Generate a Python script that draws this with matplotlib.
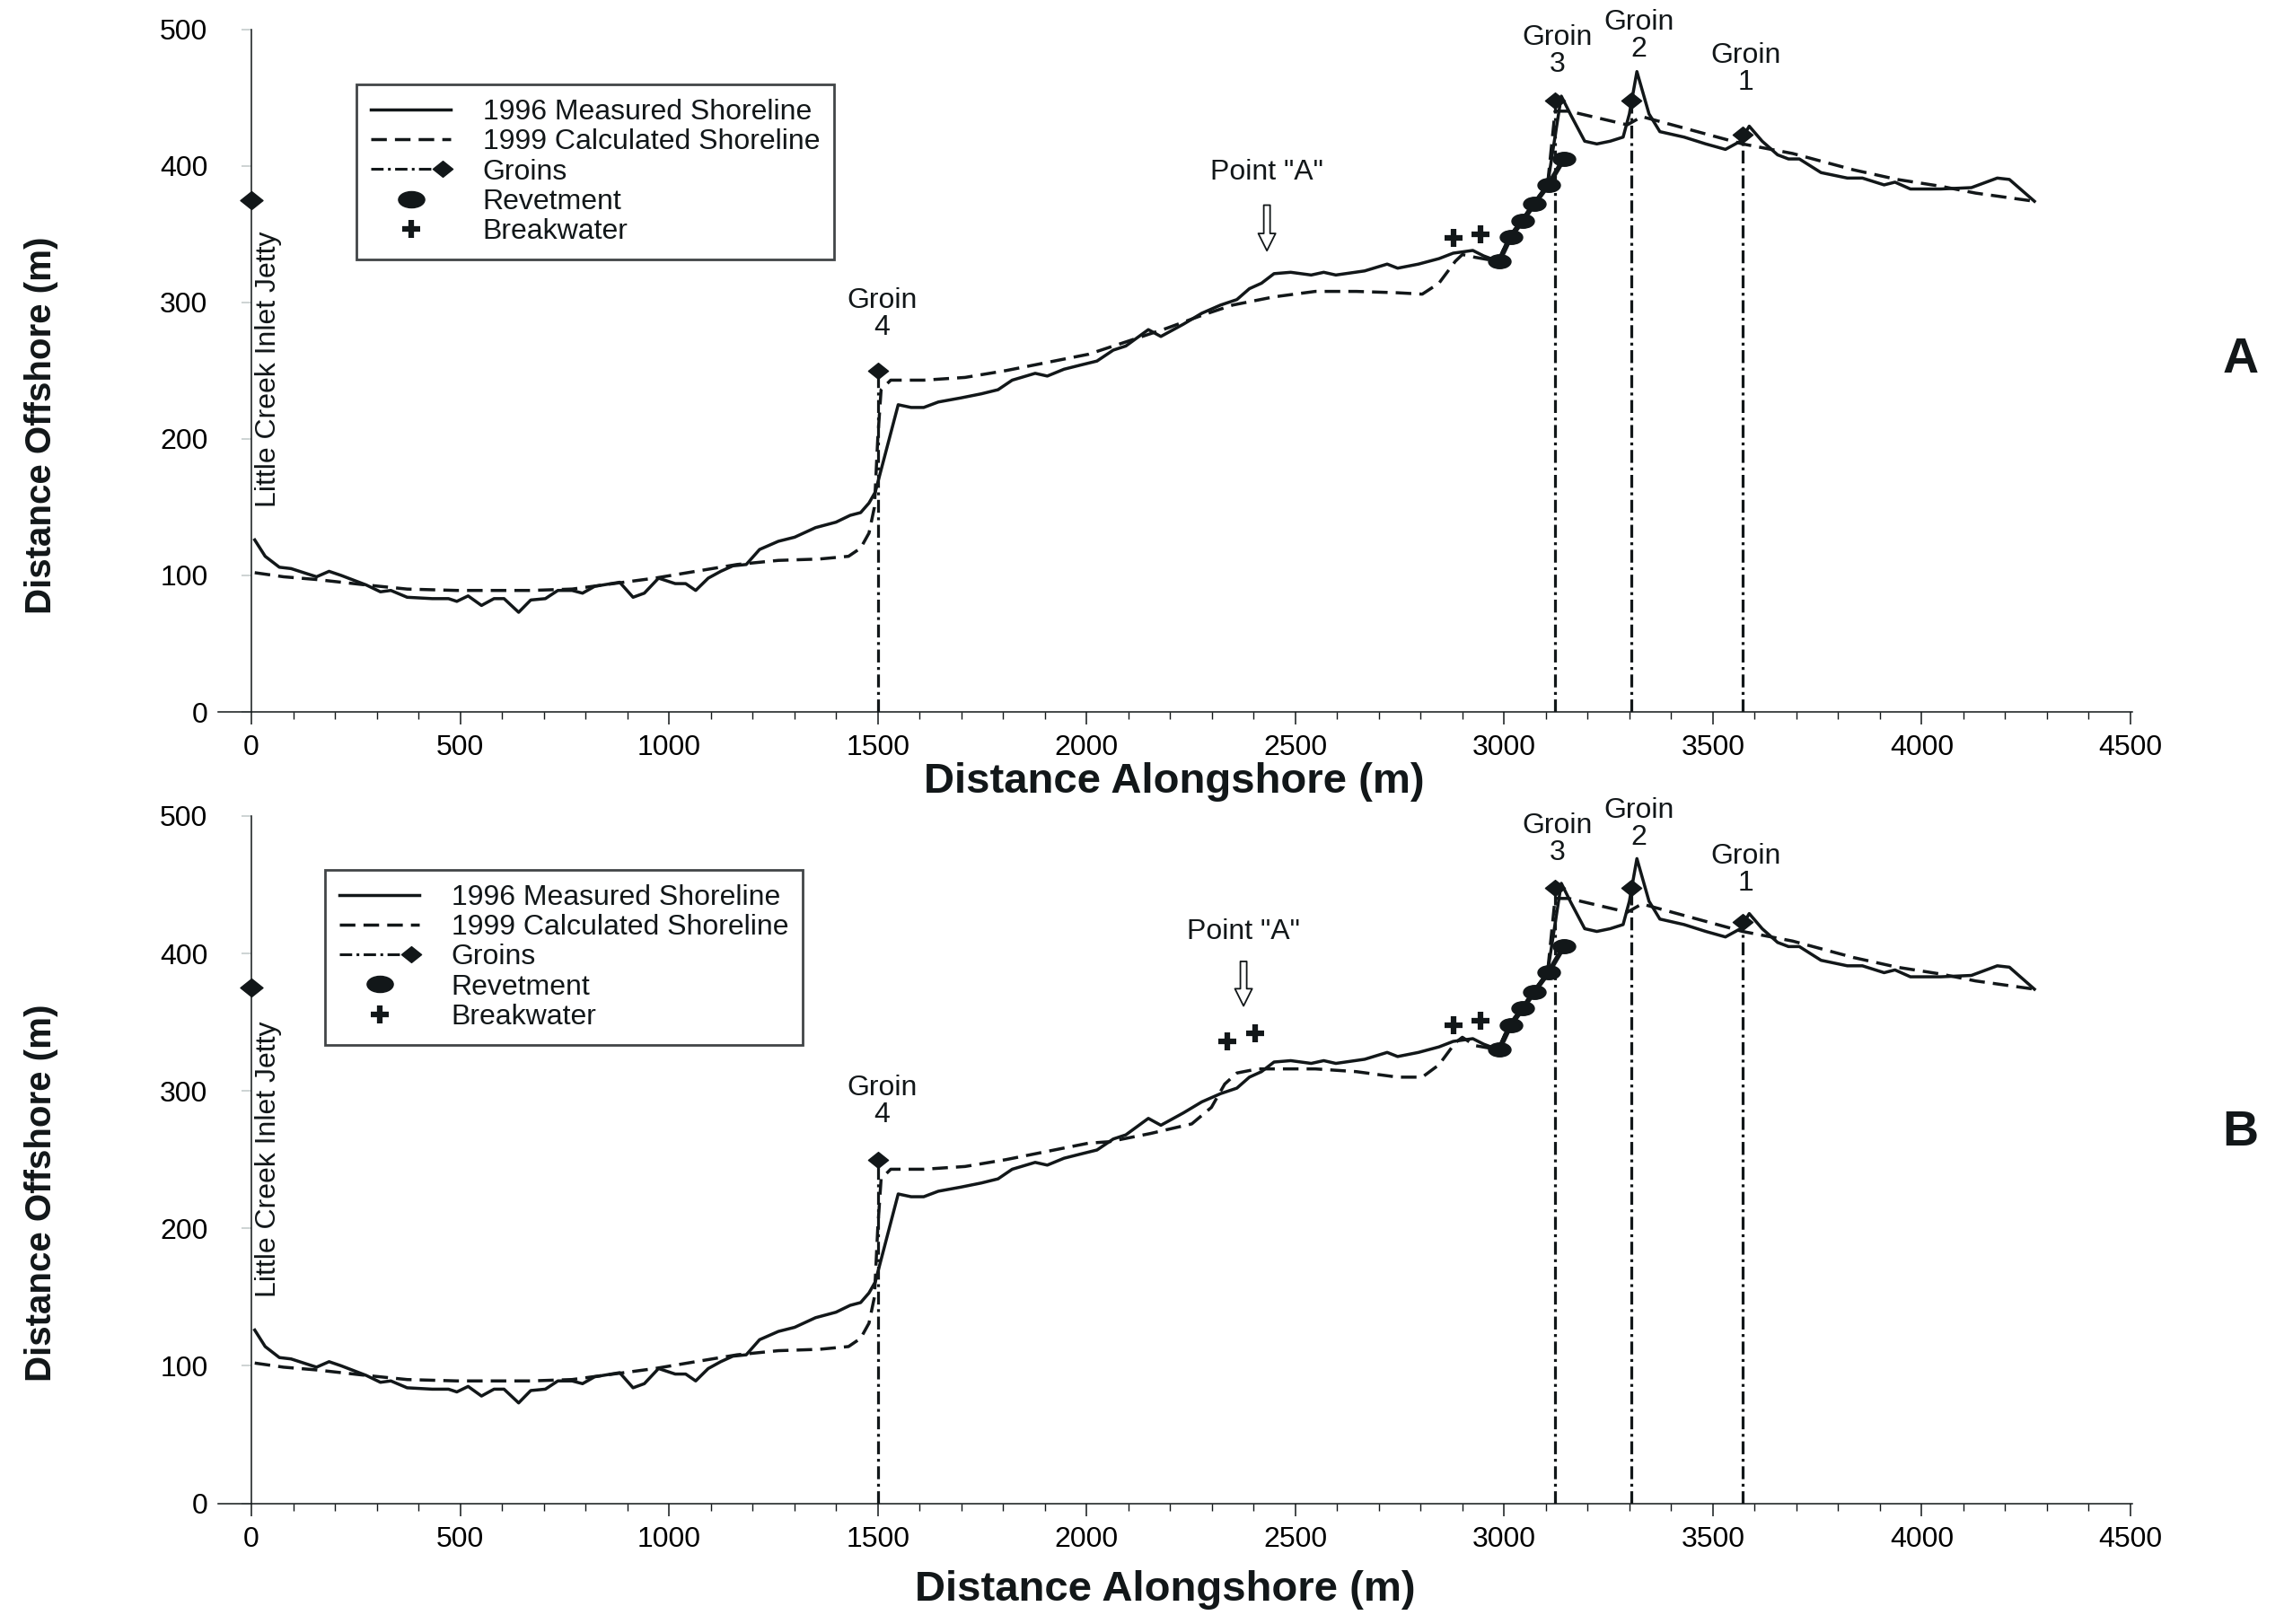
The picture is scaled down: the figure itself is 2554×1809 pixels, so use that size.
import numpy as np
import matplotlib
matplotlib.use("Agg")
import matplotlib.pyplot as plt
from matplotlib.lines import Line2D
from matplotlib.path import Path
from matplotlib.legend_handler import HandlerBase

plt.rcParams['font.family'] = ['Liberation Sans', 'DejaVu Sans']
plt.rcParams['font.size'] = 23

INK = '#121719'
DASHED = (0, (5, 2.6))
DASHDOT = (0, (4.5, 1.6, 1, 1.6))

# 1996 measured shoreline (same survey in both panels)
meas_x = [8, 33, 67, 95, 156, 186, 215, 275, 309, 334, 373, 433, 472, 492, 519,
          551, 581, 605, 640, 669, 704, 734, 768, 793, 822, 882, 914, 941, 975,
          1015, 1040, 1064, 1094, 1124, 1153, 1185, 1217, 1262, 1301, 1351, 1400,
          1434, 1459, 1479, 1494, 1549, 1580, 1610, 1645, 1699, 1748, 1788, 1822,
          1877, 1906, 1946, 1985, 2025, 2064, 2094, 2148, 2178, 2232, 2276, 2321,
          2360, 2390, 2419, 2449, 2489, 2538, 2568, 2597, 2666, 2720, 2745, 2795,
          2844, 2878, 2925, 2951, 2986, 3012, 3042, 3070, 3104, 3137, 3160, 3193,
          3222, 3254, 3285, 3300, 3318, 3347, 3373, 3431, 3483, 3530, 3566, 3587,
          3618, 3655, 3681, 3707, 3759, 3822, 3858, 3910, 3936, 3973, 4046, 4119,
          4181, 4210, 4270]
meas_y = [126, 114, 106, 105, 99, 103, 100, 93, 88, 89, 84, 83, 83, 81, 85,
          78, 83, 83, 73, 82, 83, 89, 89, 87, 92, 95, 84, 87, 98,
          94, 94, 89, 98, 103, 107, 108, 119, 125, 128, 135, 139,
          144, 146, 153, 161, 225, 223, 223, 227, 230, 233, 236, 243,
          248, 246, 251, 254, 257, 265, 268, 280, 275, 284, 292, 298,
          302, 310, 314, 321, 322, 320, 322, 320, 323, 328, 325, 328,
          332, 336, 338, 334, 330, 348, 360, 372, 386, 451, 437, 418,
          416, 418, 421, 438, 469, 438, 425, 421, 416, 412, 418, 429,
          418, 408, 405, 405, 395, 391, 391, 386, 388, 383, 383, 384,
          391, 390, 374]

# 1999 calculated shoreline, panel A
calc_a_x = [8, 77, 156, 275, 373, 492, 669, 768, 867, 966, 1064, 1163, 1262, 1360,
            1430, 1459, 1479, 1492, 1500, 1508, 1531, 1610, 1709, 1807, 1906, 2005,
            2094, 2192, 2281, 2350, 2449, 2548, 2646, 2745, 2804, 2844, 2883, 2900]
calc_a_y = [102, 99, 97, 93, 90, 89, 89, 90, 94, 98, 103, 108, 111, 112,
            114, 120, 131, 150, 200, 236, 243, 243, 245, 250, 256, 262,
            271, 281, 291, 298, 304, 308, 308, 307, 306, 314, 330, 335]

# 1999 calculated shoreline, panel B (breakwater near Point "A")
calc_b_x = [8, 77, 156, 275, 373, 492, 669, 768, 867, 966, 1064, 1163, 1262, 1360,
            1430, 1459, 1479, 1492, 1500, 1508, 1531, 1610, 1709, 1807, 1906, 2005,
            2054, 2153, 2252, 2299, 2331, 2360, 2410, 2548, 2646, 2745, 2804, 2844,
            2883, 2900]
calc_b_y = [102, 99, 97, 93, 90, 89, 89, 90, 94, 98, 103, 108, 111, 112,
            114, 120, 131, 150, 200, 236, 243, 243, 245, 250, 256, 262,
            263, 269, 276, 288, 305, 313, 316, 316, 314, 310, 310, 319,
            335, 339]

# calculated shoreline east of the breakwaters (both panels)
calc_tail_x = [2930, 2986, 3012, 3042, 3070, 3104, 3122, 3155, 3295, 3330, 3571,
               3691, 3837, 3941, 4046, 4129, 4270]
calc_tail_y = [333, 330, 348, 360, 372, 386, 440, 440, 430, 436, 416,
               409, 397, 390, 385, 380, 374]

groin_x = [1500, 3122, 3305, 3572]
groin_top = [250, 448, 448, 423]
groin_names = ['4', '3', '2', '1']
groin_label_x = [1510, 3128, 3322, 3578]
groin_label_y_a = [291, 484, 495, 471]
groin_label_y_b = [292, 483, 494, 461]

jetty_x, jetty_y = 0, 375

revet_x = [2988, 3016, 3045, 3072, 3106, 3143]
revet_y = [330, 348, 360, 372, 386, 405]

bw_a_x = [2879, 2943]
bw_a_y = [347, 350]
bw_b_x = [2338, 2403, 2879, 2943]
bw_b_y = [336, 342, 348, 351]

point_a = {'A': (2432, 395, 373, 336), 'B': (2376, 416, 396, 360)}

# marker shapes
_c = Path.unit_circle()
ellipse = Path(_c.vertices * np.array([1.0, 0.62]), _c.codes)
diamond = Path([(-1, 0), (0, 0.8), (1, 0), (0, -0.8), (-1, 0)],
               [Path.MOVETO, Path.LINETO, Path.LINETO, Path.LINETO, Path.CLOSEPOLY])


class GroinHandler(HandlerBase):
    def create_artists(self, legend, orig_handle, xdescent, ydescent,
                       width, height, fontsize, trans):
        y = (height - ydescent) / 2
        x0, x1 = -xdescent, -xdescent + width
        ln = Line2D([x0, x1 - 0.1 * width], [y, y], color=INK, lw=2.2, ls=DASHDOT)
        mk = Line2D([x1 - 0.1 * width], [y], marker=diamond, ms=16,
                    color=INK, ls='none')
        ln.set_transform(trans)
        mk.set_transform(trans)
        return [ln, mk]


fig = plt.figure(figsize=(25.54, 18.09), dpi=100)
fig.patch.set_facecolor('white')

left, width = 242.8 / 2554, (2375.3 - 242.8) / 2554
ax_a = fig.add_axes([left, 0.5616, width, 0.4204])
ax_b = fig.add_axes([left, 0.07435, width, 0.4232])

panels = [
    (ax_a, 'A', calc_a_x, calc_a_y, bw_a_x, bw_a_y, groin_label_y_a, (0.0723, 0.919)),
    (ax_b, 'B', calc_b_x, calc_b_y, bw_b_x, bw_b_y, groin_label_y_b, (0.0559, 0.9216)),
]

for ax, tag, cx, cy, bx, by, gly, leg_pos in panels:
    ax.set_xlim(-80, 4505)
    ax.set_ylim(0, 500)
    for s in ['top', 'right']:
        ax.spines[s].set_visible(False)
    ax.spines['left'].set_position(('data', 0))
    ax.spines['left'].set_linewidth(1.1)
    ax.spines['bottom'].set_linewidth(1.1)
    ax.spines['left'].set_color(INK)
    ax.spines['bottom'].set_color(INK)

    ax.set_xticks(np.arange(0, 4501, 500))
    ax.set_xticks(np.arange(0, 4501, 100), minor=True)
    ax.set_yticks(np.arange(0, 501, 100))
    ax.tick_params(axis='x', which='major', direction='out', length=10, width=1.1,
                   color=INK, pad=8, labelsize=23)
    ax.tick_params(axis='x', which='minor', direction='out', length=6, width=1.0,
                   color=INK)
    ax.tick_params(axis='y', which='major', direction='out', length=8, width=1.2,
                   color='#c5cccc', pad=27, labelsize=23)

    # groins
    for gx, gt in zip(groin_x, groin_top):
        ax.plot([gx, gx], [0, gt], color=INK, lw=2.3, ls=DASHDOT, zorder=2)
        ax.plot([gx], [gt], marker=diamond, ms=16, color=INK, ls='none', zorder=4)
    ax.plot([jetty_x], [jetty_y], marker=diamond, ms=18, color=INK, ls='none',
            zorder=4, clip_on=False)

    for lx, ly, nm in zip(groin_label_x, gly, groin_names):
        ax.text(lx, ly, 'Groin\n' + nm, ha='center', va='center', fontsize=23,
                linespacing=1.0, color=INK)

    # shorelines
    ax.plot(meas_x, meas_y, color=INK, lw=2.5, zorder=3)
    ax.plot(cx + calc_tail_x, cy + calc_tail_y, color=INK, lw=2.5, ls=DASHED, zorder=3)

    # revetment and breakwaters
    ax.plot(revet_x, revet_y, color=INK, lw=4, zorder=4)
    ax.plot(revet_x, revet_y, marker=ellipse, ms=18, color=INK, ls='none', zorder=5)
    ax.plot(bx, by, marker='+', ms=14, mew=4.5, color=INK, ls='none', zorder=5)

    # point A
    px, pty, ay0, ay1 = point_a[tag]
    ax.text(px, pty, 'Point "A"', ha='center', va='center', fontsize=23, color=INK)
    ax.annotate('', xy=(px, ay1), xytext=(px, ay0),
                arrowprops=dict(arrowstyle='simple,head_length=0.6,head_width=0.6,tail_width=0.22',
                                fc='white', ec=INK, lw=1.3))

    ax.text(40, 150, 'Little Creek Inlet Jetty', rotation=90, ha='center',
            va='bottom', fontsize=23, color=INK)

    groin_handle = Line2D([], [])
    handles = [Line2D([], [], color=INK, lw=2.5),
               Line2D([], [], color=INK, lw=2.5, ls=DASHED),
               groin_handle,
               Line2D([], [], marker=ellipse, ms=21, color=INK, ls='none'),
               Line2D([], [], marker='+', ms=14, mew=4.5, color=INK, ls='none')]
    labels = ['1996 Measured Shoreline', '1999 Calculated Shoreline', 'Groins',
              'Revetment', 'Breakwater']
    leg = ax.legend(handles, labels, loc='upper left', bbox_to_anchor=leg_pos,
                    borderaxespad=0, fontsize=23, frameon=True, fancybox=False,
                    edgecolor=INK, handlelength=2.8, handletextpad=1.1,
                    labelspacing=0.1, borderpad=0.5, handleheight=0.7,
                    handler_map={groin_handle: GroinHandler()})
    leg.get_frame().set_linewidth(2.0)
    for t in leg.get_texts():
        t.set_color(INK)

# axis titles and panel letters
for yl, xl, tag, ty in [(0.738, (0.512, 0.5185), 'A', 0.7783),
                        (0.2653, (0.508, 0.021), 'B', 0.3024)]:
    fig.text(0.018, yl, 'Distance Offshore (m)', rotation=90, ha='center',
             va='center', fontsize=29, fontweight='bold', color=INK)
    fig.text(xl[0], xl[1], 'Distance Alongshore (m)', ha='center', va='center',
             fontsize=34, fontweight='bold', color=INK)
    fig.text(0.977, ty, tag, ha='center', va='center', fontsize=40,
             fontweight='bold', color=INK)

fig.savefig('out.png', dpi=100, facecolor='white')
